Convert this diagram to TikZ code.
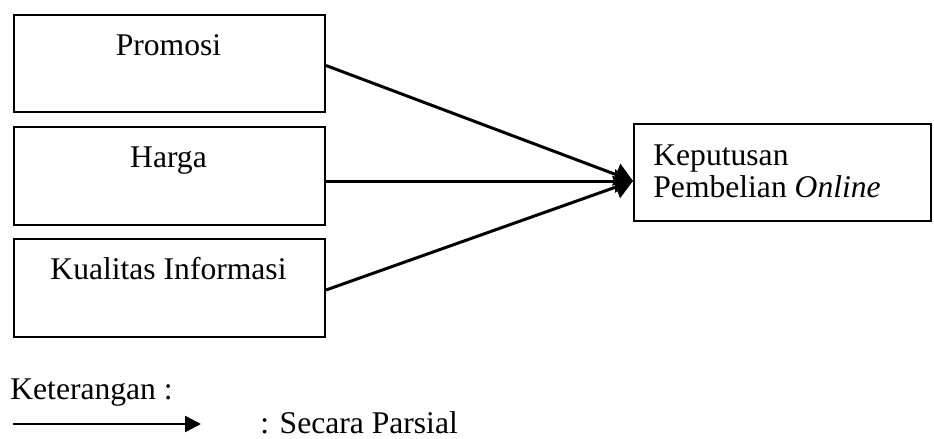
\documentclass[tikz,border=0pt]{standalone}
\usepackage{fontspec}
\setmainfont{Liberation Serif}
\usetikzlibrary{arrows.meta}
\begin{document}
\begin{tikzpicture}[x=0.5pt,y=-0.5pt,
  box/.style={draw,line width=1pt,anchor=north west,inner sep=0pt,minimum width=155.5pt},
  lbl/.style={anchor=base,inner sep=0pt,font=\fontsize{15.8}{19}\selectfont},
  lblw/.style={anchor=base west,inner sep=0pt,font=\fontsize{15.8}{19}\selectfont},
  conn/.style={line width=1.5pt,-{Triangle[length=9pt,width=11.5pt]}},
  legarrow/.style={line width=1.3pt,-{Triangle[length=8pt,width=8pt]}}]
\useasboundingbox (0,0) rectangle (934,439);
\node[box,minimum height=48.5pt] (b1) at (13,14) {};
\node[box,minimum height=49pt] (b2) at (13,126) {};
\node[box,minimum height=49pt] (b3) at (13,238) {};
\node[box,minimum width=148.5pt,minimum height=48.5pt] (k) at (633,123) {};
\node[lbl] (t1) at (168.5,55) {Promosi};
\node[lbl] (t2) at (168.5,167) {Harga};
\node[lbl] (t3) at (168.5,279) {Kualitas Informasi};
\node[lblw] (k1) at (653,165) {Keputusan};
\node[lblw] (k2) at (653,198) {Pembelian \textit{Online}};
\coordinate (tip) at (633,181);
\draw[conn] ([yshift=-1pt]b1.east) -- (tip);
\draw[conn] (b2.east |- tip) -- (tip);
\draw[conn] ([yshift=-1pt]b3.east) -- (tip);
\node[lblw] (ket) at (10,399) {Keterangan :};
\coordinate (la) at (13,424);
\coordinate (lb) at (201,424);
\draw[legarrow] (la) -- (lb);
\node[lblw] (sp) at (260,433) {: Secara Parsial};
\end{tikzpicture}
\end{document}
